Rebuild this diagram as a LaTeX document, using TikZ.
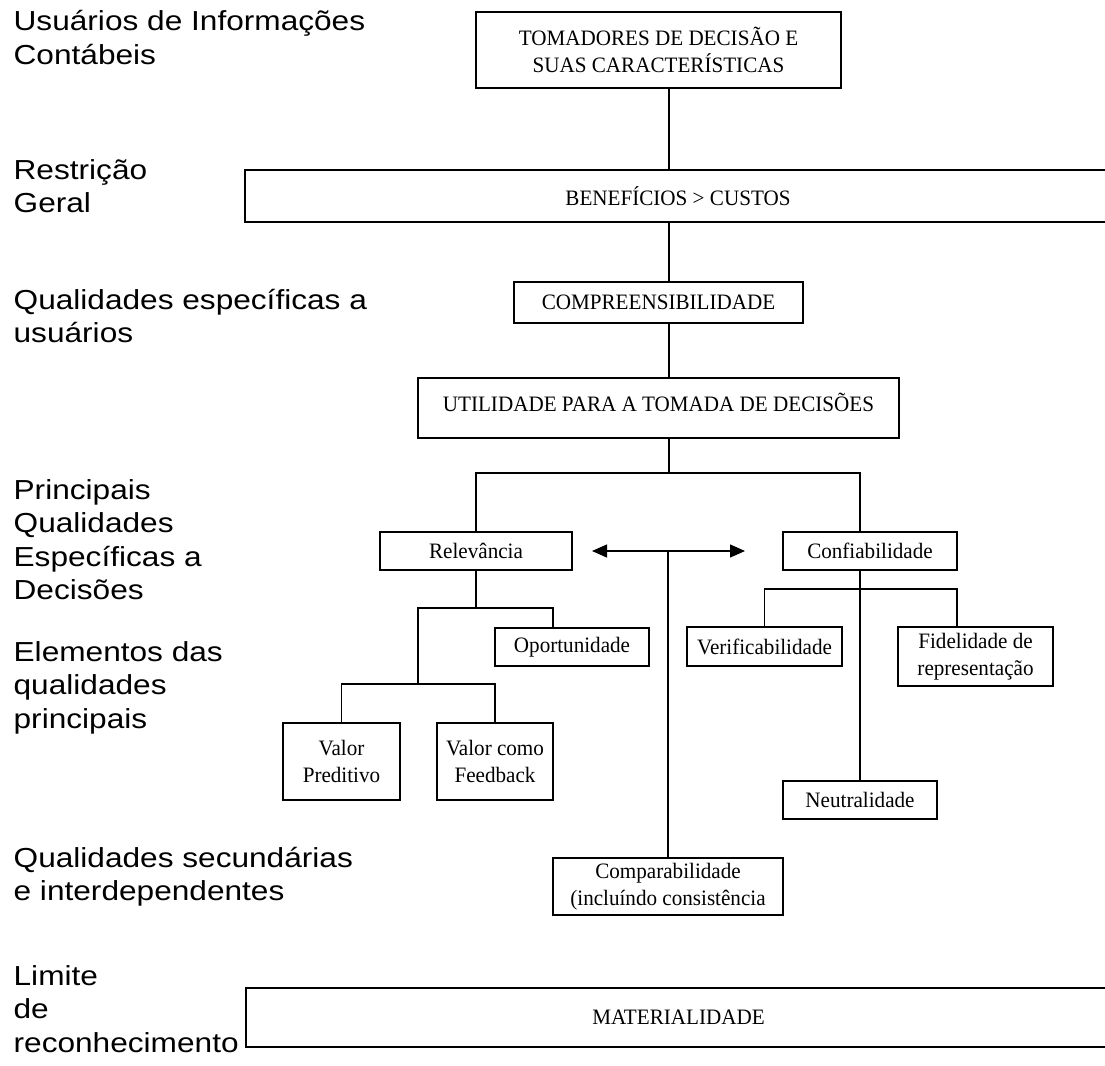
\documentclass[tikz,border=0pt]{standalone}
\usepackage{fontspec}
\setmainfont[FakeStretch=0.96]{Liberation Serif}
\newfontfamily\lblfont[FakeStretch=1.15]{Liberation Sans}
\usetikzlibrary{arrows.meta}

\begin{document}
\begin{tikzpicture}[x=1pt,y=-1pt,line width=1.3pt,
  >={Triangle[length=15pt,width=13pt]},
  box/.style={draw,inner sep=0pt,align=center,font=\fontsize{22}{27}\selectfont},
  lbl/.style={anchor=base west,inner sep=0pt,align=left,font=\lblfont\fontsize{27.5}{33.5}\selectfont}]
  \fill[white] (0,0) rectangle (1105,1065);
  \useasboundingbox (0,0) rectangle (1105,1065);
  % left column (anchored on the last line)
  \node[lbl] (lusu) at (13,64.5) {Usuários de Informações\\Contábeis};
  \node[lbl] (lres) at (13,212.5) {Restrição\\Geral};
  \node[lbl] (lqua) at (13,342.5) {Qualidades específicas a\\usuários};
  \node[lbl] (lpri) at (13,599.5) {Principais\\Qualidades\\Específicas a\\Decisões};
  \node[lbl] (lele) at (13,728) {Elementos das\\qualidades\\principais};
  \node[lbl] (lsec) at (13,900.5) {Qualidades secundárias\\e interdependentes};
  \node[lbl] (llim) at (13,1052) {Limite\\de\\reconhecimento};
  % boxes
  \node[box,minimum width=365,minimum height=76] (tom) at (658.5,50)
    {TOMADORES DE DECISÃO E\\SUAS CARACTERÍSTICAS};
  \node[box,minimum width=866,minimum height=52] (ben) at (678,196) {BENEFÍCIOS > CUSTOS};
  \node[box,minimum width=289,minimum height=41] (comp) at (658.5,302.5) {COMPREENSIBILIDADE};
  \node[box,minimum width=481,minimum height=60,text depth=12pt] (util) at (658.5,408)
    {UTILIDADE PARA A TOMADA DE DECISÕES};
  \node[box,minimum width=192,minimum height=38] (rel) at (476,551) {Relevância};
  \node[box,minimum width=174,minimum height=38] (conf) at (870,551) {Confiabilidade};
  \node[box,minimum width=154,minimum height=38] (oport) at (572,647) {Oportunidade};
  \node[box,minimum width=155,minimum height=39] (verif) at (764.5,646.5) {Verificabilidade};
  \node[box,minimum width=155,minimum height=59] (fid) at (975.5,656.5) {Fidelidade de\\representação};
  \node[box,minimum width=117,minimum height=77] (vp) at (341.5,761.5) {Valor\\Preditivo};
  \node[box,minimum width=116,minimum height=77] (vf) at (495,761.5) {Valor como\\Feedback};
  \node[box,minimum width=154,minimum height=38] (neut) at (860,800) {Neutralidade};
  \node[box,minimum width=230,minimum height=57] (compar) at (668,886.5)
    {Comparabilidade\\(incluíndo consistência};
  \node[box,minimum width=865,minimum height=59] (mat) at (678.5,1017.5) {MATERIALIDADE};
  % connectors
  \coordinate (ax) at (669,0);
  \coordinate (cx) at (860,0);
  \coordinate (split) at (669,473);
  \draw (tom.south -| ax) -- (ben.north -| ax);
  \draw (ben.south -| ax) -- (comp.north -| ax);
  \draw (comp.south -| ax) -- (util.north -| ax);
  \draw (util.south -| ax) -- (split);
  \draw (rel.north) |- (split) -| (conf.north -| cx);
  \coordinate (arrL) at (592,551);
  \coordinate (arrR) at (745,551);
  \coordinate (arrM) at (668,551);
  \draw[<->] (arrL) -- (arrR);
  \draw (arrM) -- (compar.north);
  \coordinate (r1) at (418,608);
  \coordinate (r2) at (553,608);
  \coordinate (r3) at (418,684);
  \draw (rel.south) -- (rel.south |- r1);
  \draw (r3) -- (r1) -- (r2) -- (oport.north -| r2);
  \draw (vp.north) |- (r3) -| (vf.north);
  \coordinate (c1) at (860,589);
  \coordinate (c2) at (957,589);
  \draw (conf.south -| cx) -- (neut.north);
  \draw (verif.north) |- (c1) -- (c2) -- (fid.north -| c2);
\end{tikzpicture}
\end{document}
